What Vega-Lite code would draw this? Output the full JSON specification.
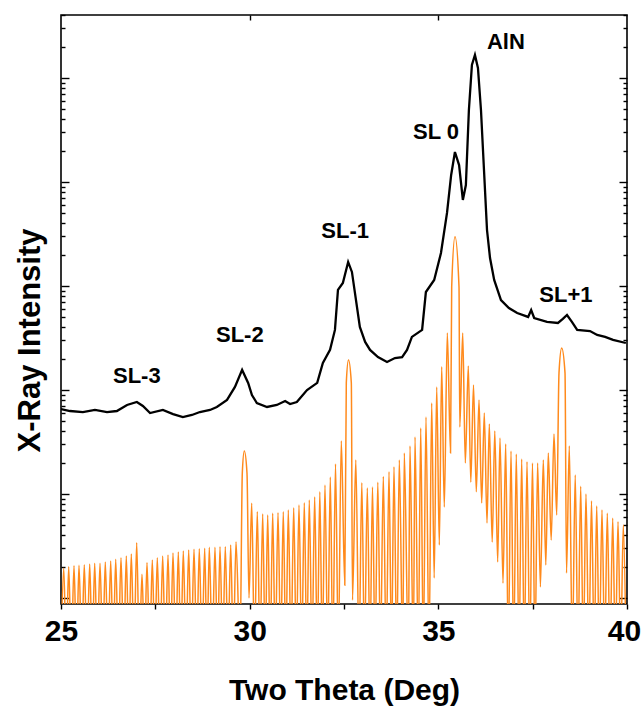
{
  "$schema": "https://vega.github.io/schema/vega-lite/v6.json",
  "width": 566,
  "height": 589,
  "autosize": {"type": "none"},
  "padding": {"left": 61, "top": 15, "right": 16, "bottom": 109},
  "background": "white",
  "config": {
    "view": {"stroke": "#000", "strokeWidth": 1.6},
    "font": "Liberation Sans",
    "axis": {"domain": false, "grid": false, "tickColor": "#000", "tickWidth": 1.4, "labelColor": "#000", "titleColor": "#000"}
  },
  "datasets": {
    "measured": [
      {"t": 25.00, "i": 65.6}, {"t": 25.24, "i": 62.8}, {"t": 25.58, "i": 61.4}, {"t": 25.90, "i": 64.3},
      {"t": 26.22, "i": 61.4}, {"t": 26.48, "i": 62.8}, {"t": 26.75, "i": 71.8}, {"t": 27.01, "i": 76.7},
      {"t": 27.17, "i": 70.2}, {"t": 27.36, "i": 60.1}, {"t": 27.70, "i": 64.3}, {"t": 27.97, "i": 58.7},
      {"t": 28.23, "i": 55.0}, {"t": 28.47, "i": 57.5}, {"t": 28.68, "i": 61.4}, {"t": 28.95, "i": 64.3},
      {"t": 29.13, "i": 68.7}, {"t": 29.40, "i": 80.2}, {"t": 29.61, "i": 107}, {"t": 29.80, "i": 156},
      {"t": 29.96, "i": 117}, {"t": 30.06, "i": 89.5}, {"t": 30.19, "i": 75.0}, {"t": 30.46, "i": 68.7},
      {"t": 30.72, "i": 71.8}, {"t": 30.94, "i": 78.3}, {"t": 31.07, "i": 73.3}, {"t": 31.25, "i": 76.7},
      {"t": 31.52, "i": 100}, {"t": 31.79, "i": 117}, {"t": 31.94, "i": 182}, {"t": 32.13, "i": 243},
      {"t": 32.26, "i": 378}, {"t": 32.34, "i": 916}, {"t": 32.47, "i": 1069}, {"t": 32.61, "i": 1702},
      {"t": 32.71, "i": 1365}, {"t": 32.79, "i": 857}, {"t": 32.92, "i": 404}, {"t": 33.06, "i": 290},
      {"t": 33.19, "i": 243}, {"t": 33.40, "i": 207}, {"t": 33.64, "i": 186}, {"t": 33.85, "i": 203},
      {"t": 34.04, "i": 207}, {"t": 34.17, "i": 243}, {"t": 34.30, "i": 324}, {"t": 34.57, "i": 378},
      {"t": 34.67, "i": 875}, {"t": 34.89, "i": 1143}, {"t": 35.07, "i": 2075}, {"t": 35.23, "i": 5035},
      {"t": 35.34, "i": 11670}, {"t": 35.44, "i": 19410}, {"t": 35.55, "i": 14550}, {"t": 35.65, "i": 6714},
      {"t": 35.73, "i": 9354}, {"t": 35.81, "i": 49200}, {"t": 35.89, "i": 133400}, {"t": 35.97, "i": 166300},
      {"t": 36.05, "i": 124700}, {"t": 36.13, "i": 49200}, {"t": 36.21, "i": 13030}, {"t": 36.29, "i": 3451},
      {"t": 36.37, "i": 1858}, {"t": 36.48, "i": 1143}, {"t": 36.66, "i": 733}, {"t": 36.87, "i": 614},
      {"t": 37.09, "i": 550}, {"t": 37.38, "i": 504}, {"t": 37.46, "i": 587}, {"t": 37.54, "i": 492},
      {"t": 37.88, "i": 451}, {"t": 38.17, "i": 441}, {"t": 38.30, "i": 482}, {"t": 38.41, "i": 526},
      {"t": 38.54, "i": 451}, {"t": 38.68, "i": 378}, {"t": 39.02, "i": 369}, {"t": 39.21, "i": 338},
      {"t": 39.42, "i": 324}, {"t": 39.63, "i": 303}, {"t": 39.97, "i": 283}
    ],
    "simulated": [
      {"t": 25.000, "i": 0.3}, {"t": 25.072, "i": 1.93}, {"t": 25.138, "i": 0.3}, {"t": 25.204, "i": 2.00},
      {"t": 25.273, "i": 0.3}, {"t": 25.345, "i": 2.04}, {"t": 25.411, "i": 0.3}, {"t": 25.477, "i": 2.06},
      {"t": 25.549, "i": 0.3}, {"t": 25.617, "i": 2.09}, {"t": 25.689, "i": 0.3}, {"t": 25.761, "i": 2.12},
      {"t": 25.827, "i": 0.3}, {"t": 25.893, "i": 2.16}, {"t": 25.962, "i": 0.3}, {"t": 26.034, "i": 2.16},
      {"t": 26.105, "i": 0.3}, {"t": 26.174, "i": 2.22}, {"t": 26.246, "i": 0.3}, {"t": 26.317, "i": 2.27},
      {"t": 26.383, "i": 0.3}, {"t": 26.450, "i": 2.36}, {"t": 26.519, "i": 0.3}, {"t": 26.590, "i": 2.44},
      {"t": 26.662, "i": 0.3}, {"t": 26.731, "i": 2.53}, {"t": 26.797, "i": 0.3}, {"t": 26.863, "i": 2.65},
      {"t": 26.935, "i": 0.3}, {"t": 27.006, "i": 3.40}, {"t": 27.075, "i": 0.3}, {"t": 27.147, "i": 1.69},
      {"t": 27.213, "i": 0.3}, {"t": 27.279, "i": 2.20}, {"t": 27.351, "i": 0.3}, {"t": 27.420, "i": 2.32},
      {"t": 27.486, "i": 0.3}, {"t": 27.552, "i": 2.44}, {"t": 27.624, "i": 0.3}, {"t": 27.695, "i": 2.53},
      {"t": 27.764, "i": 0.3}, {"t": 27.836, "i": 2.59}, {"t": 27.902, "i": 0.3}, {"t": 27.968, "i": 2.71},
      {"t": 28.040, "i": 0.3}, {"t": 28.109, "i": 2.77}, {"t": 28.175, "i": 0.3}, {"t": 28.241, "i": 2.83},
      {"t": 28.313, "i": 0.3}, {"t": 28.384, "i": 2.89}, {"t": 28.453, "i": 0.3}, {"t": 28.525, "i": 2.94},
      {"t": 28.596, "i": 0.3}, {"t": 28.665, "i": 2.98}, {"t": 28.737, "i": 0.3}, {"t": 28.808, "i": 3.01},
      {"t": 28.869, "i": 0.3}, {"t": 28.930, "i": 3.07}, {"t": 29.007, "i": 0.3}, {"t": 29.081, "i": 3.07},
      {"t": 29.148, "i": 0.3}, {"t": 29.214, "i": 3.11}, {"t": 29.285, "i": 0.3}, {"t": 29.354, "i": 3.11},
      {"t": 29.426, "i": 0.3}, {"t": 29.497, "i": 3.23}, {"t": 29.566, "i": 0.3}, {"t": 29.638, "i": 3.48},
      {"t": 29.744, "i": 0.3}, {"t": 29.805, "i": 15.9}, {"t": 29.858, "i": 25.9}, {"t": 29.929, "i": 15.9},
      {"t": 29.982, "i": 1.00}, {"t": 30.054, "i": 8.14}, {"t": 30.128, "i": 0.3}, {"t": 30.202, "i": 6.76},
      {"t": 30.274, "i": 0.3}, {"t": 30.345, "i": 6.42}, {"t": 30.412, "i": 0.3}, {"t": 30.478, "i": 6.28},
      {"t": 30.544, "i": 0.3}, {"t": 30.610, "i": 6.52}, {"t": 30.679, "i": 0.3}, {"t": 30.751, "i": 6.61},
      {"t": 30.823, "i": 0.3}, {"t": 30.891, "i": 6.76}, {"t": 30.958, "i": 0.3}, {"t": 31.024, "i": 7.02},
      {"t": 31.096, "i": 0.3}, {"t": 31.167, "i": 7.38}, {"t": 31.236, "i": 0.3}, {"t": 31.307, "i": 7.84},
      {"t": 31.379, "i": 0.3}, {"t": 31.448, "i": 8.25}, {"t": 31.514, "i": 0.3}, {"t": 31.580, "i": 8.76},
      {"t": 31.652, "i": 0.3}, {"t": 31.723, "i": 9.42}, {"t": 31.792, "i": 0.3}, {"t": 31.859, "i": 10.5},
      {"t": 31.925, "i": 0.3}, {"t": 31.996, "i": 12.2}, {"t": 32.068, "i": 0.3}, {"t": 32.137, "i": 14.6},
      {"t": 32.203, "i": 0.3}, {"t": 32.275, "i": 19.4}, {"t": 32.349, "i": 0.3}, {"t": 32.428, "i": 32.3},
      {"t": 32.521, "i": 1.33}, {"t": 32.561, "i": 117}, {"t": 32.619, "i": 194}, {"t": 32.694, "i": 117},
      {"t": 32.725, "i": 0.956}, {"t": 32.813, "i": 21.2}, {"t": 32.898, "i": 0.3}, {"t": 32.972, "i": 12.8},
      {"t": 33.043, "i": 0.3}, {"t": 33.118, "i": 11.4}, {"t": 33.189, "i": 0.3}, {"t": 33.255, "i": 11.7},
      {"t": 33.322, "i": 0.3}, {"t": 33.396, "i": 13.0}, {"t": 33.467, "i": 0.3}, {"t": 33.542, "i": 14.7},
      {"t": 33.618, "i": 0.3}, {"t": 33.693, "i": 16.4}, {"t": 33.759, "i": 0.3}, {"t": 33.825, "i": 18.3},
      {"t": 33.897, "i": 0.3}, {"t": 33.966, "i": 21.2}, {"t": 34.056, "i": 0.3}, {"t": 34.098, "i": 24.8},
      {"t": 34.204, "i": 0.3}, {"t": 34.249, "i": 28.9}, {"t": 34.337, "i": 0.3}, {"t": 34.382, "i": 35.3},
      {"t": 34.469, "i": 0.3}, {"t": 34.533, "i": 43.1}, {"t": 34.602, "i": 0.3}, {"t": 34.673, "i": 55.0},
      {"t": 34.753, "i": 0.3}, {"t": 34.824, "i": 75.0}, {"t": 34.890, "i": 1.56}, {"t": 34.957, "i": 107},
      {"t": 35.026, "i": 3.23}, {"t": 35.089, "i": 167}, {"t": 35.158, "i": 7.50}, {"t": 35.238, "i": 353},
      {"t": 35.323, "i": 24.8}, {"t": 35.354, "i": 978}, {"t": 35.442, "i": 2979}, {"t": 35.548, "i": 978},
      {"t": 35.569, "i": 44.1}, {"t": 35.646, "i": 353}, {"t": 35.715, "i": 19.9}, {"t": 35.794, "i": 170},
      {"t": 35.860, "i": 13.0}, {"t": 35.932, "i": 112}, {"t": 36.006, "i": 10.5}, {"t": 36.078, "i": 80.1},
      {"t": 36.149, "i": 8.19}, {"t": 36.218, "i": 60.1}, {"t": 36.290, "i": 5.26}, {"t": 36.351, "i": 47.1},
      {"t": 36.428, "i": 3.45}, {"t": 36.496, "i": 40.3}, {"t": 36.573, "i": 2.22}, {"t": 36.634, "i": 34.6},
      {"t": 36.714, "i": 1.39}, {"t": 36.785, "i": 30.3}, {"t": 36.854, "i": 0.3}, {"t": 36.926, "i": 25.9},
      {"t": 36.997, "i": 0.3}, {"t": 37.066, "i": 24.2}, {"t": 37.138, "i": 0.3}, {"t": 37.209, "i": 21.7},
      {"t": 37.278, "i": 0.3}, {"t": 37.350, "i": 20.4}, {"t": 37.424, "i": 0.3}, {"t": 37.495, "i": 19.9},
      {"t": 37.562, "i": 0.3}, {"t": 37.631, "i": 19.9}, {"t": 37.705, "i": 1.28}, {"t": 37.782, "i": 21.2},
      {"t": 37.848, "i": 2.08}, {"t": 37.914, "i": 24.8}, {"t": 37.991, "i": 3.61}, {"t": 38.065, "i": 37.8},
      {"t": 38.137, "i": 6.28}, {"t": 38.198, "i": 146}, {"t": 38.269, "i": 253}, {"t": 38.357, "i": 146},
      {"t": 38.397, "i": 1.74}, {"t": 38.471, "i": 28.9}, {"t": 38.551, "i": 0.3}, {"t": 38.628, "i": 15.2},
      {"t": 38.701, "i": 0.3}, {"t": 38.773, "i": 11.9}, {"t": 38.842, "i": 0.3}, {"t": 38.913, "i": 10.0},
      {"t": 38.988, "i": 0.3}, {"t": 39.059, "i": 8.56}, {"t": 39.131, "i": 0.3}, {"t": 39.197, "i": 7.67},
      {"t": 39.266, "i": 0.3}, {"t": 39.337, "i": 7.02}, {"t": 39.409, "i": 0.3}, {"t": 39.478, "i": 6.52},
      {"t": 39.550, "i": 0.3}, {"t": 39.621, "i": 5.84}, {"t": 39.691, "i": 0.3}, {"t": 39.762, "i": 5.42},
      {"t": 39.833, "i": 0.3}, {"t": 39.902, "i": 5.03}, {"t": 39.974, "i": 0.3}
    ],
    "labels": [
      {"t": 27.01, "i": 136, "label": "SL-3"},
      {"t": 29.74, "i": 338, "label": "SL-2"},
      {"t": 32.53, "i": 3380, "label": "SL-1"},
      {"t": 34.94, "i": 30270, "label": "SL 0"},
      {"t": 36.79, "i": 222000, "label": "AlN"},
      {"t": 38.38, "i": 819, "label": "SL+1"}
    ]
  },
  "layer": [
    {
      "data": {"name": "simulated"},
      "mark": {"type": "line", "color": "#FF8A1C", "strokeWidth": 1.5, "interpolate": "monotone", "clip": true},
      "encoding": {
        "x": {"field": "t", "type": "quantitative", "scale": {"domain": [25, 40], "nice": false, "zero": false},
          "axis": {"orient": "top", "values": [30, 35], "tickSize": -5, "labels": false, "title": null}},
        "y": {"field": "i", "type": "quantitative", "scale": {"type": "log", "domain": [0.876, 403000], "nice": false},
          "axis": {"orient": "right", "labels": false, "title": null,
            "values": [1,2,3,4,5,6,7,8,9,10,20,30,40,50,60,70,80,90,100,200,300,400,500,600,700,800,900,1000,2000,3000,4000,5000,6000,7000,8000,9000,10000,20000,30000,40000,50000,60000,70000,80000,90000,100000,200000,300000,400000],
            "tickSize": {"condition": {"test": "abs(log(datum.value)/LN10 - round(log(datum.value)/LN10)) < 0.001", "value": -8}, "value": -4}}}
      }
    },
    {
      "data": {"name": "measured"},
      "mark": {"type": "line", "color": "#000000", "strokeWidth": 2.3, "clip": true},
      "encoding": {
        "x": {"field": "t", "type": "quantitative", "scale": {"domain": [25, 40], "nice": false, "zero": false},
          "axis": {"orient": "bottom", "values": [25, 27.5, 30, 32.5, 35, 37.5, 40], "tickSize": 5,
            "labelExpr": "datum.value % 5 == 0 ? datum.label : ''", "labelFontSize": 30, "labelFontWeight": "bold",
            "labelPadding": 7, "labelBaseline": "top", "labelFlush": false, "labelBound": false,
            "labelOffset": {"condition": {"test": "datum.value == 40", "value": -3}, "value": 0},
            "title": "Two Theta (Deg)", "titleFontSize": 30, "titleFontWeight": "bold", "titleY": 86, "titleBaseline": "middle"}},
        "y": {"field": "i", "type": "quantitative", "scale": {"type": "log", "domain": [0.876, 403000], "nice": false},
          "axis": {"orient": "left", "labels": false,
            "values": [1,2,3,4,5,6,7,8,9,10,20,30,40,50,60,70,80,90,100,200,300,400,500,600,700,800,900,1000,2000,3000,4000,5000,6000,7000,8000,9000,10000,20000,30000,40000,50000,60000,70000,80000,90000,100000,200000,300000,400000],
            "tickSize": {"condition": {"test": "abs(log(datum.value)/LN10 - round(log(datum.value)/LN10)) < 0.001", "value": -8}, "value": -4},
            "title": "X-Ray Intensity", "titleFontSize": 31, "titleFontWeight": "bold", "titleX": -31, "titleY": 325,
            "titleAngle": -90, "titleAlign": "center", "titleBaseline": "middle"}}
      }
    },
    {
      "data": {"name": "labels"},
      "mark": {"type": "text", "font": "Liberation Sans", "fontSize": 22, "fontWeight": "bold", "color": "#000", "align": "center", "baseline": "middle"},
      "encoding": {
        "x": {"field": "t", "type": "quantitative", "axis": null},
        "y": {"field": "i", "type": "quantitative", "axis": null},
        "text": {"field": "label"}
      }
    }
  ],
  "resolve": {"axis": {"x": "independent", "y": "independent"}}
}
